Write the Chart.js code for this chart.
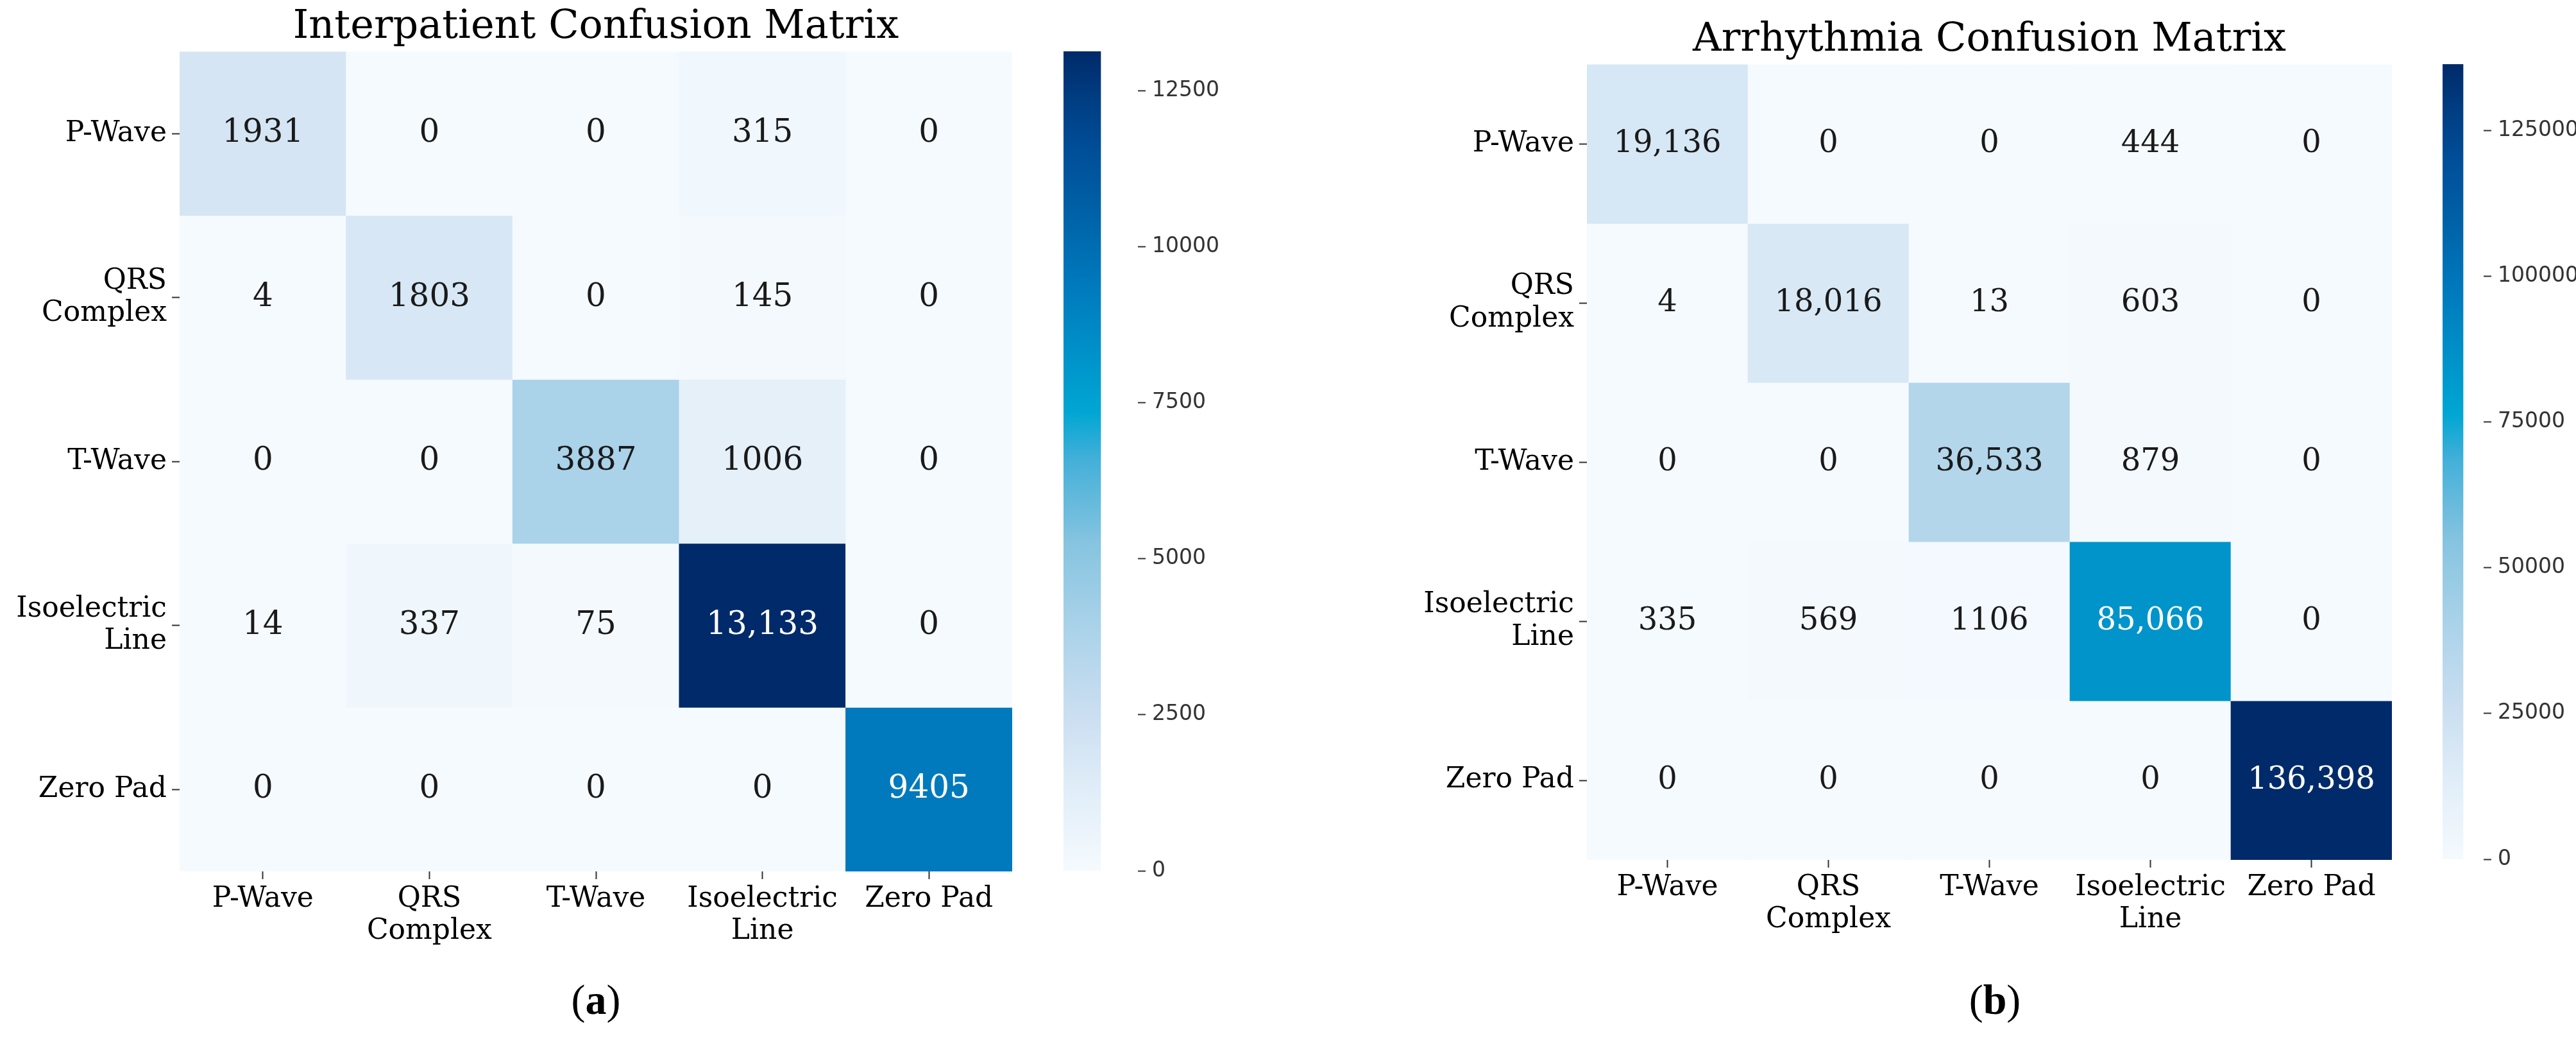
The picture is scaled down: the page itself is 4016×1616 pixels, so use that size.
<!DOCTYPE html>
<html>
<head>
<meta charset="utf-8">
<script src="https://cdn.jsdelivr.net/npm/chart.js@4.4.0/dist/chart.umd.min.js"></script>
<style>
  body { margin: 0; background: #fff; width: 4016px; height: 1616px; position: relative; overflow: hidden; }
  .box { position: absolute; }
  .tag { position: absolute; width: 200px; text-align: center; font-family: 'Liberation Serif'; font-size: 66px; color: #000; }
</style>
</head>
<body>
<div class="box" style="left:0px;top:0px;width:1600px;height:1500px"><canvas id="cmA"></canvas></div>
<div class="box" style="left:1658px;top:0px;width:260px;height:1400px"><canvas id="barA"></canvas></div>
<div class="box" style="left:2100px;top:20px;width:1650px;height:1462px"><canvas id="cmB"></canvas></div>
<div class="box" style="left:3808px;top:0px;width:208px;height:1400px"><canvas id="barB"></canvas></div>
<div class="tag" style="left:829px;top:1520px">(<b>a</b>)</div>
<div class="tag" style="left:3010px;top:1520px">(<b>b</b>)</div>
<script>
// Data
var classLabels = ['P-Wave', ['QRS', 'Complex'], 'T-Wave', ['Isoelectric', 'Line'], 'Zero Pad'];
var interpatient = [
	[1931, 0, 0, 315, 0],
	[4, 1803, 0, 145, 0],
	[0, 0, 3887, 1006, 0],
	[14, 337, 75, 13133, 0],
	[0, 0, 0, 0, 9405]
];
var arrhythmia = [
	[19136, 0, 0, 444, 0],
	[4, 18016, 13, 603, 0],
	[0, 0, 36533, 879, 0],
	[335, 569, 1106, 85066, 0],
	[0, 0, 0, 0, 136398]
];
var barTicksA = [0, 2500, 5000, 7500, 10000, 12500];
var barTicksB = [0, 25000, 50000, 75000, 100000, 125000];

// Blues-like colour ramp as it appears in the figure
var ramp = [
	[0.00, '#f5fafe'], [0.10, '#e0edf8'], [0.20, '#c8ddf0'], [0.30, '#a9d2e9'],
	[0.40, '#86c4e0'], [0.50, '#45b0d9'], [0.56, '#00a6d3'], [0.65, '#008cc6'],
	[0.72, '#0078bc'], [0.80, '#0062a8'], [0.88, '#004e98'], [0.95, '#003b7f'],
	[1.00, '#002a69']
];

function hex2rgb(h) {
	return [parseInt(h.substr(1, 2), 16), parseInt(h.substr(3, 2), 16), parseInt(h.substr(5, 2), 16)];
}
function colorAt(t) {
	t = Math.max(0, Math.min(1, t));
	for (var i = 1; i < ramp.length; i++) {
		if (t <= ramp[i][0]) {
			var a = ramp[i - 1], b = ramp[i];
			var f = (t - a[0]) / (b[0] - a[0]);
			var ca = hex2rgb(a[1]), cb = hex2rgb(b[1]);
			return 'rgb(' + ca.map(function(v, k) { return Math.round(v + (cb[k] - v) * f); }).join(',') + ')';
		}
	}
	return ramp[ramp.length - 1][1];
}
function fmt(v) {
	return v >= 10000 ? v.toLocaleString('en-US') : String(v);
}

var serif = 'DejaVu Serif';
var tickGrid = { display: true, drawOnChartArea: false, drawTicks: true, tickLength: 12, tickColor: '#333', tickWidth: 2, offset: false };

var cellText = {
	id: 'cellText',
	afterDatasetsDraw: function(chart, args, opts) {
		var ctx = chart.ctx;
		ctx.save();
		ctx.font = opts.size + 'px "' + serif + '"';
		ctx.textAlign = 'center';
		ctx.textBaseline = 'middle';
		chart.data.datasets.forEach(function(ds, r) {
			chart.getDatasetMeta(r).data.forEach(function(bar, c) {
				var v = ds.values[c];
				var p = bar.getCenterPoint();
				ctx.fillStyle = v / opts.vmax > 0.5 ? '#ffffff' : '#1a1a1a';
				ctx.fillText(fmt(v), p.x, p.y);
			});
		});
		ctx.restore();
	}
};

function heatmap(id, matrix, title, yWidth, cellSize, padRight) {
	var vmax = Math.max.apply(null, matrix.map(function(r) { return Math.max.apply(null, r); }));
	var datasets = matrix.map(function(row, r) {
		return {
			data: row.map(function() { return [r, r + 1]; }),
			values: row,
			backgroundColor: row.map(function(v) { return colorAt(v / vmax); }),
			borderWidth: 0,
			barPercentage: 1,
			categoryPercentage: 1,
			grouped: false
		};
	});
	return new Chart(document.getElementById(id), {
		type: 'bar',
		data: { labels: classLabels, datasets: datasets },
		plugins: [cellText],
		options: {
			responsive: true,
			maintainAspectRatio: false,
			animation: false,
			devicePixelRatio: 1,
			layout: { padding: { top: 0, right: padRight, left: 0, bottom: 0 } },
			plugins: {
				legend: { display: false },
				tooltip: { enabled: false },
				title: {
					display: true, text: title, fullSize: false, color: '#000',
					font: { family: serif, size: 62, weight: 'normal', lineHeight: 1.2 },
					padding: { top: 6, bottom: 0 }
				},
				cellText: { size: cellSize, vmax: vmax }
			},
			scales: {
				x: {
					type: 'category', offset: true,
					grid: tickGrid, border: { display: false },
					ticks: { color: '#000', font: { family: serif, size: 44, lineHeight: 1.15 }, padding: 6, maxRotation: 0, autoSkip: false },
					afterFit: function(s) { s.height = 142; }
				},
				y: {
					type: 'linear', min: 0, max: 5, reverse: true,
					grid: tickGrid, border: { display: false },
					afterBuildTicks: function(s) { s.ticks = [0.5, 1.5, 2.5, 3.5, 4.5].map(function(v) { return { value: v }; }); },
					ticks: {
						color: '#000', font: { family: serif, size: 44, lineHeight: 1.15 }, padding: 8,
						callback: function(v, i) { return classLabels[i]; }
					},
					afterFit: function(s) { s.width = yWidth; }
				}
			}
		}
	});
}

function colorbar(id, vmax, ticks, padTop, padBottom) {
	return new Chart(document.getElementById(id), {
		type: 'bar',
		data: {
			labels: [''],
			datasets: [{
				data: [[0, vmax]],
				borderWidth: 0,
				barPercentage: 1,
				categoryPercentage: 1,
				backgroundColor: function(c) {
					var a = c.chart.chartArea;
					if (!a) return null;
					var g = c.chart.ctx.createLinearGradient(0, a.bottom, 0, a.top);
					ramp.forEach(function(s) { g.addColorStop(s[0], s[1]); });
					return g;
				}
			}]
		},
		options: {
			responsive: true,
			maintainAspectRatio: false,
			animation: false,
			devicePixelRatio: 1,
			layout: { padding: { top: padTop, bottom: padBottom, left: 0, right: 0 } },
			plugins: { legend: { display: false }, tooltip: { enabled: false } },
			scales: {
				x: { display: false, offset: false },
				y: {
					position: 'right', min: 0, max: vmax,
					grid: { drawOnChartArea: false, drawTicks: true, tickLength: 12, tickColor: '#333', tickWidth: 2 },
					border: { display: false },
					afterBuildTicks: function(s) { s.ticks = ticks.map(function(v) { return { value: v }; }); },
					ticks: { color: '#333', font: { family: 'DejaVu Sans', size: 33 }, padding: 10, callback: function(v) { return String(v); } },
					afterFit: function(s) { s.width = 144; }
				}
			}
		}
	});
}

heatmap('cmA', interpatient, 'Interpatient Confusion Matrix', 280, 50, 22);
heatmap('cmB', arrhythmia, 'Arrhythmia Confusion Matrix', 374, 48, 21);
colorbar('barA', 13133, barTicksA, 80, 43);
colorbar('barB', 136398, barTicksB, 100, 61);
</script>
</body>
</html>
